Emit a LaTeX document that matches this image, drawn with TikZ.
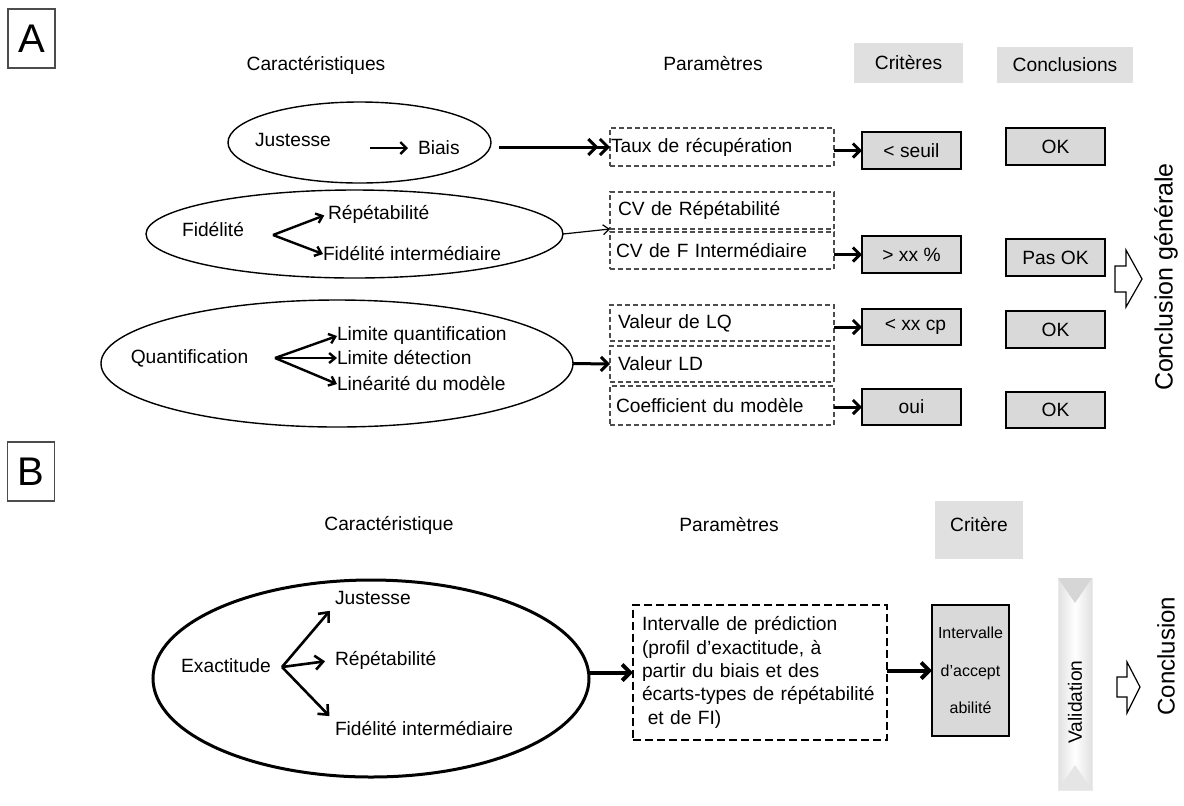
\documentclass[tikz,border=0pt]{standalone}
\usepackage{fontspec}
\setmainfont{Liberation Sans}
\usetikzlibrary{arrows.meta,shapes.geometric}
\newcommand\bodyfs{\fontsize{9.6}{11.5}\selectfont}
\begin{document}
\begin{tikzpicture}[x=0.5pt,y=-0.5pt,
  every node/.style={font=\bodyfs, inner sep=0pt, outer sep=0pt},
  lbl/.style={draw, black!70, line width=0.6pt, text=black, minimum width=23.5pt, minimum height=29.5pt, font=\fontsize{20}{20}\selectfont},
  hdr/.style={fill=black!12},
  ell/.style={draw, ellipse, line width=0.7pt},
  ellB/.style={draw, ellipse, line width=1.5pt},
  dbox/.style={draw=black!70, dashed, dash pattern=on 2.5pt off 1.5pt, line width=0.6pt, minimum width=112pt, inner xsep=4pt, text width=104pt, align=left},
  dboxB/.style={draw, dash pattern=on 4pt off 2pt, line width=1.3pt, minimum width=127pt, minimum height=67.5pt, inner xsep=4.5pt, text width=118pt, align=left, font=\fontsize{9.6}{11.65}\selectfont},
  cbox/.style={draw, fill=black!15, line width=0.7pt, minimum width=49.5pt},
  arrS/.style={-{Straight Barb[length=3pt,width=6pt]}, line width=1.2pt},
  arrD/.style={-{Straight Barb[length=4pt,width=8pt] Straight Barb[length=4pt,width=8pt]}, line width=1.5pt},
  arrP/.style={-{Straight Barb[length=3.5pt,width=7pt]}, line width=1.5pt},
  arrT/.style={-{Straight Barb[length=3pt,width=5pt]}, line width=0.6pt},
  arrBr/.style={-{Straight Barb[length=3pt,width=5pt]}, line width=1.2pt},
  arrE/.style={-{Straight Barb[length=4pt,width=7pt]}, line width=1.3pt},
  arrE2/.style={-{Straight Barb[length=4pt,width=8pt]}, line width=2pt},
  hollow/.style={draw, line width=0.6pt, fill=white},
  bigtxt/.style={rotate=90, font=\fontsize{12.5}{12.5}\selectfont}
]
\useasboundingbox (0,0) rectangle (1184,805);

% ---------- Panel A ----------
\node[lbl] (labA) at (31.5,38.5) {A};
\node (hCar) at (316,65) {Caractéristiques};
\node (hPar) at (713,64) {Paramètres};
\node[hdr, minimum width=54.5pt, minimum height=20pt] (hCri) at (908.5,63) {Critères};
\node[hdr, minimum width=68pt, minimum height=18pt] (hCon) at (1065,65) {Conclusions};

% Justesse
\node[ell, minimum width=131.5pt, minimum height=40.5pt] (eJ) at (359.5,142.5) {};
\node (tJus) at (293,140) {Justesse};
\node[anchor=west] (tBia) at (418,148) {Biais};
\coordinate (jA) at (370,148);
\draw[arrS, shorten >=5pt] (jA) -- (tBia.west);

% Fidelite
\node[ell, minimum width=208.5pt, minimum height=44pt] (eF) at (354.5,234) {};
\node (tFid) at (213,230) {Fidélité};
\coordinate (fO) at (273,235);
\node[anchor=west] (tRep) at (328,214) {Répétabilité};
\node[anchor=west] (tFI) at (323,254) {Fidélité intermédiaire};
\draw[arrBr, shorten >=2pt] (fO) -- (tRep.west);
\draw[arrBr] (fO) -- (tFI.west);

% Quantification
\node[ell, minimum width=236pt, minimum height=63.5pt] (eQ) at (337,363.5) {};
\node (tQ) at (189.5,358) {Quantification};
\coordinate (qO) at (275,358);
\node[anchor=west] (tLQ) at (337,336) {Limite quantification};
\node[anchor=west] (tLD) at (337,358) {Limite détection};
\node[anchor=west] (tLin) at (337,384) {Linéarité du modèle};
\draw[arrBr] (qO) -- (tLQ.west);
\draw[arrBr] (qO) -- (tLD.west);
\draw[arrBr] (qO) -- (tLin.west);

% Parametres
\node[dbox, minimum height=19pt, inner xsep=0.5pt, text width=111pt] (taux) at (722,147) {Taux de récupération};
\node[dbox, minimum height=18.5pt] (cvr) at (722,210.5) {CV de Répétabilité};
\node[dbox, minimum height=18.5pt, inner xsep=3pt, text width=106pt] (cvf) at (722,250.5) {CV de F Intermédiaire};
\node[dbox, minimum height=18pt] (vlq) at (722,323) {Valeur de LQ};
\node[dbox, minimum height=18pt] (vld) at (722,364) {Valeur LD};
\node[dbox, minimum height=19.5pt, inner xsep=3pt, text width=106pt] (coef) at (722,405.5) {Coefficient du modèle};

% Criteres
\node[cbox, minimum height=18.5pt] (c1) at (911.5,150.5) {< seuil};
\node[cbox, minimum height=18.5pt] (c2) at (911.5,254.5) {> xx \%};
\node[cbox, minimum height=18pt] (c3) at (911.5,327) {\hspace*{4pt}< xx cp};
\node[cbox, minimum height=18pt] (c4) at (911.5,407) {oui};

% Conclusions
\node[cbox, minimum height=18.5pt] (k1) at (1055.5,146.5) {OK};
\node[cbox, minimum height=18.5pt] (k2) at (1055.5,257.5) {Pas OK};
\node[cbox, minimum height=18.5pt] (k3) at (1055.5,329.5) {OK};
\node[cbox, minimum height=18pt] (k4) at (1055.5,410) {OK};

% connectors A
\draw[arrD, shorten <=4pt] (eJ.east |- taux.west) -- (taux.west);
\draw[arrT] (eF.east) -- (cvr.south west);
\draw[arrP] (eQ.east) -- (vld.west);
\draw[arrP] (taux.east |- c1.west) -- (c1.west);
\draw[arrP] (cvf.east |- c2.west) -- (c2.west);
\draw[arrP] (vlq.east |- c3.west) -- (c3.west);
\draw[arrP] (coef.east |- c4.west) -- (c4.west);

% conclusion generale
\draw[hollow] (1115,266) -- (1126,266) -- (1126,250) -- (1142,279) -- (1126,307) -- (1126,292) -- (1115,292) -- cycle;
\node[bigtxt] (concA) at (1166,277) {Conclusion générale};

% ---------- Panel B ----------
\node[lbl] (labB) at (31,471.5) {B};
\node (hCarB) at (389,525) {Caractéristique};
\node (hParB) at (729,525) {Paramètres};
\node[hdr, minimum width=44pt, minimum height=29pt] (hCriB) at (979,530) {};
\node (tCriB) at (979,525) {Critère};

\node[ellB, minimum width=218pt, minimum height=98.5pt] (eE) at (371,678.5) {};
\node (tEx) at (226,666) {Exactitude};
\coordinate (eO) at (282,667);
\node[anchor=west] (tJ2) at (335,598) {Justesse};
\node[anchor=west] (tR2) at (335,660) {Répétabilité};
\node[anchor=west] (tF2) at (335,729) {Fidélité intermédiaire};
\draw[arrE, shorten >=4pt] (eO) -- (tJ2.south west);
\draw[arrE, shorten >=5pt] (eO) -- (tR2.west);
\draw[arrE, shorten >=4pt] (eO) -- (tF2.north west);

\node[dboxB] (pred) at (760,672.5) {Intervalle de prédiction\\(profil d’exactitude, à\\partir du biais et des\\écarts-types de répétabilité\\\hspace*{0.3em}et de FI)};
\node[cbox, minimum width=38.5pt, minimum height=65.5pt, align=center, font=\fontsize{8}{18.75}\selectfont] (acc) at (970.5,670.5) {Intervalle\\d’accept\\abilité};

\draw[arrE2] (eE.east |- pred.west) -- (pred.west);
\draw[arrE2] (pred.east |- acc.west) -- (acc.west);

% validation bar
\node[minimum width=17pt, minimum height=106pt, left color=black!12, right color=black!12, middle color=white, draw=black!8, line width=0.3pt] (val) at (1075,684) {};
\fill[black!16] (val.north west) -- (val.north east) -- (1075,603) -- cycle;
\fill[black!10] (val.south west) -- (val.south east) -- (1075,765) -- cycle;
\node[rotate=90] (tVal) at (1075,702) {Validation};

\draw[hollow] (1117,677) -- (1127,677) -- (1127,662) -- (1140,687) -- (1127,713) -- (1127,697) -- (1117,697) -- cycle;
\node[bigtxt, font=\fontsize{12}{12}\selectfont] (concB) at (1166,656) {Conclusion};
\end{tikzpicture}
\end{document}
